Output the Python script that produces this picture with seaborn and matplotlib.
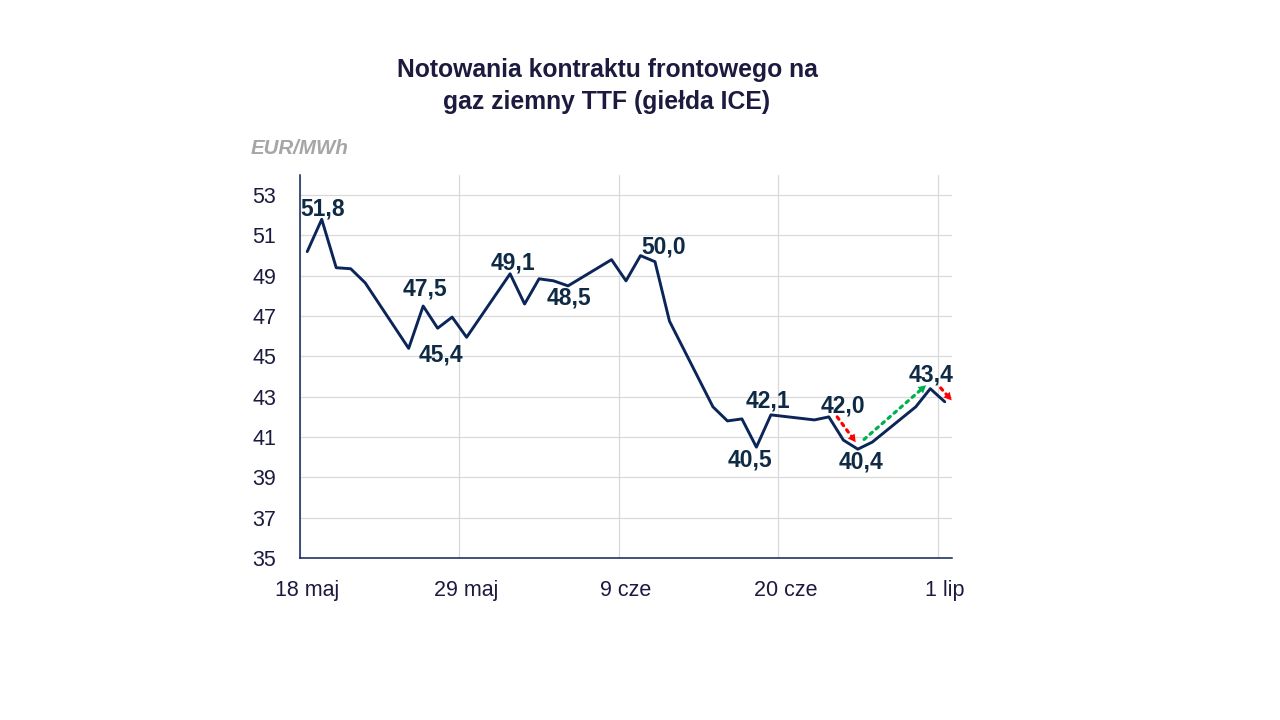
import pandas as pd
import numpy as np
import matplotlib
matplotlib.use('Agg')
import matplotlib.pyplot as plt
import matplotlib.dates as mdates
import matplotlib.transforms as mtransforms
import seaborn as sns

# Dane: notowania kontraktu frontowego TTF (EUR/MWh), dni sesyjne
dates = ['2026-05-18', '2026-05-19', '2026-05-20', '2026-05-21', '2026-05-22',
         '2026-05-25', '2026-05-26', '2026-05-27', '2026-05-28', '2026-05-29',
         '2026-06-01', '2026-06-02', '2026-06-03', '2026-06-04', '2026-06-05',
         '2026-06-08', '2026-06-09', '2026-06-10', '2026-06-11', '2026-06-12',
         '2026-06-15', '2026-06-16', '2026-06-17', '2026-06-18', '2026-06-19',
         '2026-06-22', '2026-06-23', '2026-06-24', '2026-06-25', '2026-06-26',
         '2026-06-29', '2026-06-30', '2026-07-01']
prices = [50.2, 51.8, 49.4, 49.35, 48.65,
          45.4, 47.5, 46.4, 46.95, 45.95,
          49.1, 47.6, 48.85, 48.75, 48.5,
          49.8, 48.75, 50.0, 49.7, 46.75,
          42.5, 41.8, 41.9, 40.5, 42.1,
          41.85, 42.0, 40.85, 40.4, 40.75,
          42.5, 43.4, 42.75]

tick_dates = ['2026-05-18', '2026-05-29', '2026-06-09', '2026-06-20', '2026-07-01']
tick_labels = ['18 maj', '29 maj', '9 cze', '20 cze', '1 lip']
y_ticks = [35, 37, 39, 41, 43, 45, 47, 49, 51, 53]

# podpisane punkty i przesuniecie etykiety (pt)
label_dates = ['2026-05-19', '2026-05-26', '2026-05-25', '2026-06-01', '2026-06-05',
               '2026-06-10', '2026-06-19', '2026-06-18', '2026-06-23', '2026-06-25',
               '2026-06-30']
label_offsets = [(1, 7.5), (1.5, 12), (23, -4.5), (2, 8), (1, -9),
                 (17, 6), (-2, 10), (-5, -9.5), (10.5, 8), (2.5, -9), (0.5, 9.5)]

# strzalki: (od, do, kolor, przesuniecie startu, przesuniecie konca) w pt
arrows = [('2026-06-23', '2026-06-25', '#ff0000', (6, 0), (-1.5, 5)),
          ('2026-06-25', '2026-06-30', '#00b050', (4.5, 7), (-3, 2.5)),
          ('2026-06-30', '2026-07-01', '#ff0000', (7.5, 0.5), (5, 1))]

navy = '#0b2559'
text_col = '#1c1a3f'
label_col = '#0f2a44'
half_day = pd.Timedelta(hours=12)

df = pd.DataFrame({'date': pd.to_datetime(dates) + half_day,
                   'price': prices})

sns.set_style('white')
plt.rcParams['font.family'] = ['Liberation Sans', 'DejaVu Sans']

fig = plt.figure(figsize=(12.8, 7.2), dpi=100)
ax = fig.add_axes([300 / 1280, 1 - 558 / 720, 652 / 1280, 383 / 720])

sns.lineplot(data=df, x='date', y='price', ax=ax, color=navy, linewidth=2.1)

ax.set_xlim(pd.Timestamp('2026-05-18'), pd.Timestamp('2026-07-02'))
ax.set_ylim(35, 54)
ax.set_yticks(y_ticks)
ax.set_yticklabels([str(v) for v in y_ticks])
# siatka na poczatku dnia, podpisy na srodku dnia (jak w osi dat Excela)
ax.set_xticks(pd.to_datetime(tick_dates))
ax.set_xticklabels([''] * len(tick_dates))
ax.set_xticks(pd.to_datetime(tick_dates) + half_day, minor=True)
ax.set_xticklabels(tick_labels, minor=True)
ax.grid(True, which='major', color='#d9d9d9', linewidth=0.9)
ax.set_axisbelow(True)
ax.tick_params(axis='both', which='both', length=0, labelsize=15.5, colors=text_col)
ax.tick_params(axis='y', pad=17)
ax.tick_params(axis='x', which='both', pad=16)
ax.set_xlabel('')
ax.set_ylabel('')
for s in ['top', 'right']:
    ax.spines[s].set_visible(False)
for s in ['left', 'bottom']:
    ax.spines[s].set_color(navy)
    ax.spines[s].set_linewidth(1.1)

lookup = dict(zip(pd.to_datetime(dates), prices))
for d, (dx, dy) in zip(label_dates, label_offsets):
    v = lookup[pd.Timestamp(d)]
    ax.annotate(f'{v:.1f}'.replace('.', ','),
                xy=(pd.Timestamp(d) + half_day, v),
                xytext=(dx, dy), textcoords='offset points',
                ha='center', va='center', fontsize=16.5, fontweight='bold',
                color=label_col)

for d0, d1, col, o0, o1 in arrows:
    p0 = (mdates.date2num(pd.Timestamp(d0) + half_day), lookup[pd.Timestamp(d0)])
    p1 = (mdates.date2num(pd.Timestamp(d1) + half_day), lookup[pd.Timestamp(d1)])
    t0 = mtransforms.offset_copy(ax.transData, fig=fig, x=o0[0], y=o0[1], units='points')
    t1 = mtransforms.offset_copy(ax.transData, fig=fig, x=o1[0], y=o1[1], units='points')
    ax.annotate('', xy=p1, xycoords=t1, xytext=p0, textcoords=t0,
                arrowprops=dict(arrowstyle='-', color=col, lw=2.3,
                                linestyle=(0, (0.9, 1.6)), shrinkA=0, shrinkB=4,
                                capstyle='round'),
                annotation_clip=False)
    ax.annotate('', xy=p1, xycoords=t1, xytext=p0, textcoords=t0,
                arrowprops=dict(arrowstyle='-|>,head_length=0.55,head_width=0.3',
                                color=col, lw=0, shrinkA=0, shrinkB=0),
                annotation_clip=False)

fig.text(607 / 1280, 1 - 86 / 720,
         'Notowania kontraktu frontowego na\ngaz ziemny TTF (giełda ICE)',
         ha='center', va='center', fontsize=17.8, fontweight='bold',
         color=text_col, linespacing=1.38)
fig.text(251 / 1280, 1 - 148 / 720, 'EUR/MWh', ha='left', va='center',
         fontsize=14.8, fontweight='bold', fontstyle='italic', color='#a6a6a6')

fig.savefig('out.png', dpi=100)
